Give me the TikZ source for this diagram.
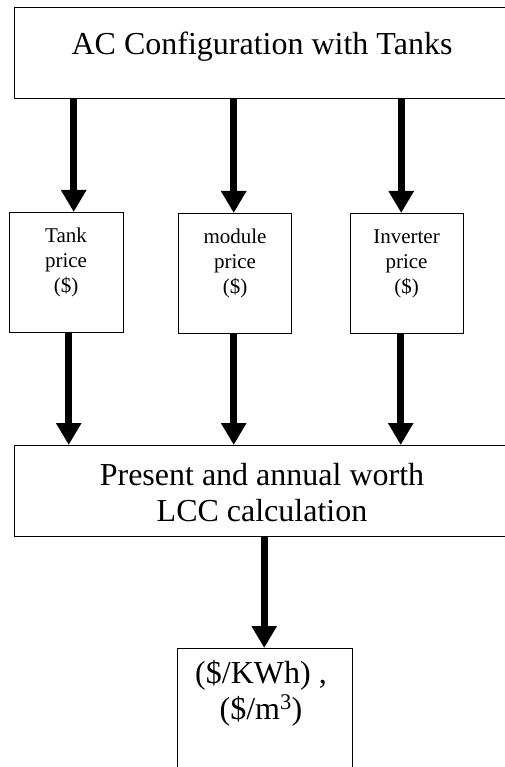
\documentclass[tikz,border=0pt]{standalone}
\usepackage{fontspec}
\setmainfont{Liberation Serif}
\usetikzlibrary{arrows.meta}
\begin{document}
\begin{tikzpicture}[x=1pt,y=-1pt,
  box/.style={draw=black,line width=1.4pt,rectangle,inner sep=0pt,anchor=north west,fill=white},
  bigtxt/.style={inner sep=0pt,align=center,font=\fontsize{32}{36}\selectfont},
  smalltxt/.style={inner sep=0pt,align=center,font=\fontsize{21}{25}\selectfont},
  arr/.style={line width=7pt,-{Triangle[length=22pt,width=24pt]}}]
\useasboundingbox (0,0) rectangle (504,767);
% boxes
\node[box,minimum width=506pt,minimum height=91pt] (top) at (14,7) {};
\node[box,minimum width=114pt,minimum height=120pt] (tank) at (9,212) {};
\node[box,minimum width=113pt,minimum height=120pt] (mod) at (178,213) {};
\node[box,minimum width=113pt,minimum height=120pt] (inv) at (350,213) {};
\node[box,minimum width=506pt,minimum height=91pt] (calc) at (14,445) {};
\node[box,minimum width=175pt,minimum height=140pt] (res) at (177,648) {};
% texts
\node[bigtxt,anchor=base] (toptxt) at (262,55) {AC Configuration with Tanks};
\node[smalltxt,anchor=base] (tanktxt) at (66,292) {Tank\\price\\(\$)};
\node[smalltxt,anchor=base] (modtxt) at (235,293) {module\\price\\(\$)};
\node[smalltxt,anchor=base] (invtxt) at (406.5,293) {Inverter\\price\\(\$)};
\node[bigtxt,anchor=base] (calctxt) at (262,521) {Present and annual worth\\LCC calculation};
\node[bigtxt,anchor=base] (restxt) at (261,719) {(\$/KWh) ,\\ (\$/m\textsuperscript{3})};
% arrows
\coordinate (t1) at ([xshift=7pt]tank.north);
\coordinate (t2) at ([xshift=-1.5pt]mod.north);
\coordinate (t3) at ([xshift=-6pt]inv.north);
\draw[arr] (t1 |- top.south) -- (t1);
\draw[arr] (t2 |- top.south) -- (t2);
\draw[arr] (t3 |- top.south) -- (t3);
\coordinate (b1) at ([xshift=2pt]tank.south);
\coordinate (b2) at ([xshift=-1.5pt]mod.south);
\coordinate (b3) at ([xshift=-6.5pt]inv.south);
\draw[arr] (b1) -- (b1 |- calc.north);
\draw[arr] (b2) -- (b2 |- calc.north);
\draw[arr] (b3) -- (b3 |- calc.north);
\coordinate (c1) at ([xshift=-1pt]res.north);
\draw[arr] (c1 |- calc.south) -- (c1);
\end{tikzpicture}
\end{document}
